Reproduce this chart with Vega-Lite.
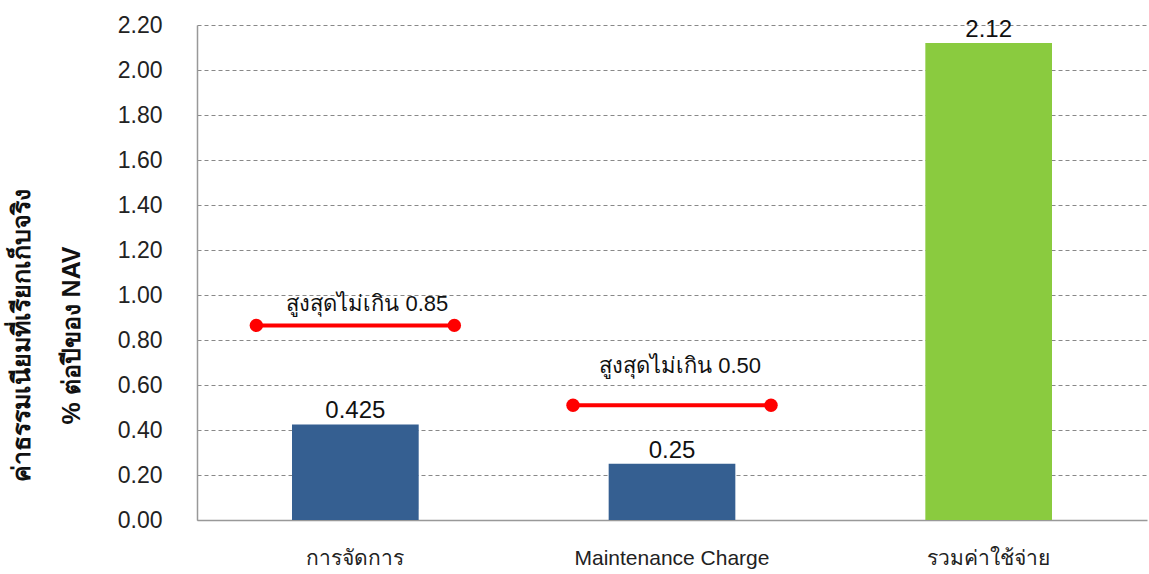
{
  "$schema": "https://vega.github.io/schema/vega-lite/v6.json",
  "autosize": {"type": "none"},
  "width": 950,
  "height": 495,
  "padding": {"left": 197, "top": 25, "right": 2, "bottom": 54},
  "background": "white",
  "config": {
    "font": "Liberation Sans",
    "view": {"stroke": null}
  },
  "datasets": {
    "bars": [
      {"category": "การจัดการ", "value": 0.425, "label": "0.425", "group": "fee"},
      {"category": "Maintenance Charge", "value": 0.25, "label": "0.25", "group": "fee"},
      {"category": "รวมค่าใช้จ่าย", "value": 2.12, "label": "2.12", "group": "total"}
    ],
    "limits": [
      {"category": "การจัดการ", "limit": 0.865, "label": "สูงสุดไม่เกิน 0.85"},
      {"category": "Maintenance Charge", "limit": 0.51, "label": "สูงสุดไม่เกิน 0.50"}
    ]
  },
  "encoding": {
    "x": {
      "field": "category",
      "type": "nominal",
      "sort": ["การจัดการ", "Maintenance Charge", "รวมค่าใช้จ่าย"],
      "scale": {"domain": ["การจัดการ", "Maintenance Charge", "รวมค่าใช้จ่าย"], "paddingInner": 0.6, "paddingOuter": 0.3},
      "axis": {
        "title": null,
        "labelAngle": 0,
        "labelFontSize": 21,
        "labelColor": "#222222",
        "labelPadding": 27,
        "labelLimit": 400,
        "ticks": false,
        "domainColor": "#999999",
        "domainWidth": 1.5
      }
    }
  },
  "layer": [
    {
      "data": {"name": "bars"},
      "mark": {"type": "bar"},
      "encoding": {
        "y": {
          "field": "value",
          "type": "quantitative",
          "scale": {"domain": [0, 2.2], "nice": false},
          "axis": {
            "values": [0, 0.2, 0.4, 0.6, 0.8, 1.0, 1.2, 1.4, 1.6, 1.8, 2.0, 2.2],
            "format": ".2f",
            "labelFontSize": 23,
            "labelColor": "#222222",
            "labelPadding": 35,
            "ticks": false,
            "domainColor": "#999999",
            "domainWidth": 1.5,
            "grid": true,
            "gridColor": "#888888",
            "gridDash": [4, 3],
            "gridWidth": 1,
            "title": ["ค่าธรรมเนียมที่เรียกเก็บจริง", "% ต่อปีของ NAV"],
            "titleFontSize": 25,
            "titleFontWeight": "bold",
            "titleColor": "#111111",
            "titleLineHeight": 50,
            "titleAngle": -90,
            "titleAlign": "center",
            "titleBaseline": "top",
            "titleX": -188,
            "titleY": 310
          }
        },
        "color": {
          "field": "group",
          "type": "nominal",
          "scale": {"domain": ["fee", "total"], "range": ["#355F91", "#8ACB3F"]},
          "legend": null
        }
      }
    },
    {
      "data": {"name": "bars"},
      "mark": {"type": "text", "baseline": "bottom", "dy": -1, "fontSize": 24, "color": "#111111"},
      "encoding": {
        "y": {"field": "value", "type": "quantitative"},
        "text": {"field": "label", "type": "nominal"}
      }
    },
    {
      "data": {"name": "limits"},
      "mark": {"type": "tick", "orient": "horizontal", "size": 198, "thickness": 4, "color": "#FF0000", "opacity": 1},
      "encoding": {
        "y": {"field": "limit", "type": "quantitative"}
      }
    },
    {
      "data": {"name": "limits"},
      "mark": {"type": "point", "filled": true, "size": 180, "xOffset": -99, "color": "#FF0000", "opacity": 1},
      "encoding": {
        "y": {"field": "limit", "type": "quantitative"}
      }
    },
    {
      "data": {"name": "limits"},
      "mark": {"type": "point", "filled": true, "size": 180, "xOffset": 99, "color": "#FF0000", "opacity": 1},
      "encoding": {
        "y": {"field": "limit", "type": "quantitative"}
      }
    },
    {
      "data": {"name": "limits"},
      "transform": [{"filter": "datum.category === 'การจัดการ'"}],
      "mark": {"type": "text", "baseline": "bottom", "dy": -9, "dx": 12, "fontSize": 22, "color": "#111111"},
      "encoding": {
        "y": {"field": "limit", "type": "quantitative"},
        "text": {"field": "label", "type": "nominal"}
      }
    },
    {
      "data": {"name": "limits"},
      "transform": [{"filter": "datum.category === 'Maintenance Charge'"}],
      "mark": {"type": "text", "baseline": "bottom", "dy": -27, "dx": 8, "fontSize": 22, "color": "#111111"},
      "encoding": {
        "y": {"field": "limit", "type": "quantitative"},
        "text": {"field": "label", "type": "nominal"}
      }
    }
  ]
}
